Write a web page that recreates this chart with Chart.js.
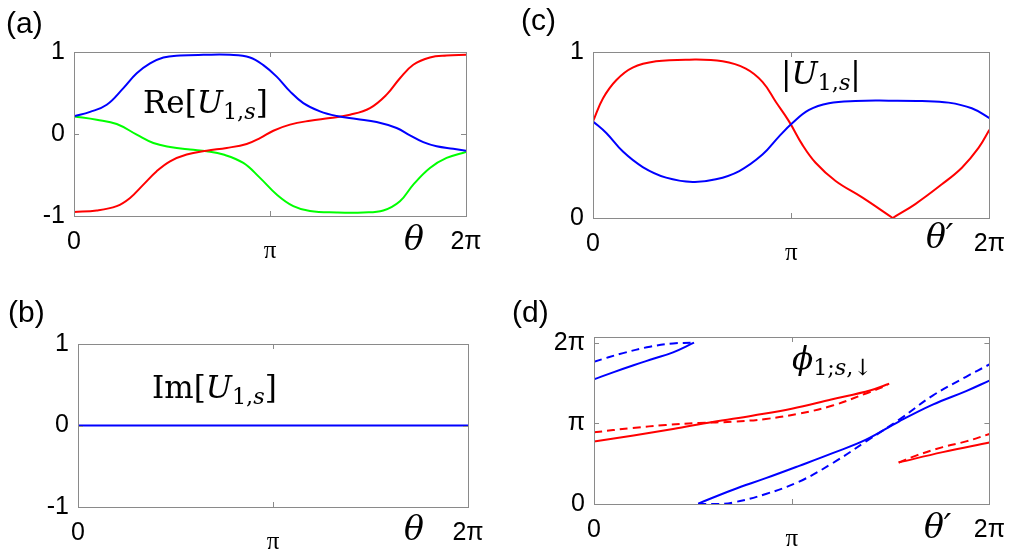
<!DOCTYPE html>
<html>
<head>
<meta charset="utf-8">
<script src="https://cdn.jsdelivr.net/npm/chart.js@4.4.1/dist/chart.umd.min.js"></script>
<style>
body { margin: 0; width: 1016px; height: 559px; background: #fff; position: relative; overflow: hidden; font-family: 'Liberation Sans', sans-serif; }
canvas { position: absolute; }
.lbl { position: absolute; font-size: 30px; line-height: 1; color: #000; }
.math { position: absolute; font-family: 'DejaVu Serif', serif; font-size: 31px; line-height: 1; white-space: nowrap; color: #000; }
.math i { font-style: italic; }
.math .sb { font-size: 0.72em; position: relative; top: 0.28em; }
.ax { position: absolute; font-family: 'DejaVu Serif', serif; font-style: italic; font-size: 33px; line-height: 1; color: #000; }
</style>
</head>
<body>
<canvas id="pa" width="500" height="280" style="left:0;top:0"></canvas>
<canvas id="pb" width="500" height="279" style="left:0;top:280px"></canvas>
<canvas id="pc" width="508" height="280" style="left:508px;top:0"></canvas>
<canvas id="pd" width="508" height="279" style="left:508px;top:280px"></canvas>

<div class="lbl" style="left:6px;top:8px">(a)</div>
<div class="lbl" style="left:8px;top:297px">(b)</div>
<div class="lbl" style="left:521px;top:5px">(c)</div>
<div class="lbl" style="left:512px;top:297px">(d)</div>

<div class="math" style="left:143px;top:87px">Re[<i>U</i><span class="sb">1,<i>s</i></span>]</div>
<div class="math" style="left:152px;top:372px">Im[<i>U</i><span class="sb">1,<i>s</i></span>]</div>
<div class="math" style="left:781px;top:58px">|<i>U</i><span class="sb">1,<i>s</i></span>|</div>
<div class="math" style="left:792px;top:343px"><i>ϕ</i><span class="sb">1;<i>s</i>,↓</span></div>

<div class="ax" style="left:404px;top:222px">θ</div>
<div class="ax" style="left:404px;top:512px">θ</div>
<div class="ax" style="left:926px;top:220px">θ′</div>
<div class="ax" style="left:924px;top:510px">θ′</div>

<script>
var PI = Math.PI;

// x positions are in units of pi
var tReBlue = [0, 0.082, 0.167, 0.252, 0.32, 0.388, 0.456, 0.541, 0.66, 0.796, 0.898, 0.966, 1.034, 1.102, 1.17, 1.255, 1.34, 1.442, 1.544, 1.646, 1.714, 1.782, 1.85, 1.935, 2.0];
var reBlue = [0.215, 0.27, 0.357, 0.56, 0.74, 0.86, 0.933, 0.957, 0.965, 0.965, 0.933, 0.84, 0.70, 0.52, 0.377, 0.276, 0.22, 0.183, 0.146, 0.073, -0.016, -0.10, -0.15, -0.18, -0.203];
var tReRed = [0, 0.116, 0.218, 0.286, 0.354, 0.422, 0.49, 0.575, 0.677, 0.779, 0.881, 0.949, 1.017, 1.102, 1.204, 1.306, 1.408, 1.51, 1.595, 1.663, 1.731, 1.816, 1.901, 2.0];
var reRed = [-0.95, -0.933, -0.88, -0.78, -0.617, -0.454, -0.333, -0.25, -0.203, -0.17, -0.122, -0.05, 0.04, 0.114, 0.162, 0.195, 0.235, 0.316, 0.48, 0.68, 0.844, 0.933, 0.957, 0.965];
var tReGreen = [0, 0.116, 0.218, 0.32, 0.405, 0.49, 0.592, 0.677, 0.762, 0.864, 0.949, 1.034, 1.119, 1.204, 1.34, 1.476, 1.578, 1.663, 1.731, 1.816, 1.901, 2.0];
var reGreen = [0.215, 0.174, 0.122, -0.008, -0.11, -0.158, -0.19, -0.21, -0.25, -0.353, -0.535, -0.738, -0.88, -0.94, -0.957, -0.957, -0.933, -0.82, -0.617, -0.414, -0.292, -0.22];

var tIm = [0, 2];
var imBlue = [0, 0];

var tAbsBlue = [0, 0.067, 0.151, 0.251, 0.369, 0.503, 0.62, 0.738, 0.855, 0.939, 1.006, 1.09, 1.19, 1.324, 1.492, 1.66, 1.794, 1.911, 2.0];
var absBlue = [0.582, 0.512, 0.40, 0.307, 0.243, 0.217, 0.233, 0.283, 0.382, 0.492, 0.572, 0.651, 0.691, 0.705, 0.707, 0.705, 0.695, 0.661, 0.602];
var tAbsRedL = [0, 0.05, 0.117, 0.2, 0.318, 0.486, 0.654, 0.771, 0.855, 0.922, 0.989, 1.056, 1.123, 1.224, 1.358, 1.512];
var absRedL = [0.582, 0.72, 0.83, 0.906, 0.944, 0.954, 0.944, 0.90, 0.82, 0.70, 0.582, 0.442, 0.333, 0.223, 0.124, 0];
var tAbsRedR = [1.512, 1.626, 1.76, 1.861, 1.945, 2.0];
var absRedR = [0, 0.084, 0.203, 0.303, 0.422, 0.532];

// phases, values in units of pi
var tBlueSolid1 = [0, 0.1, 0.2, 0.3, 0.4, 0.506];
var phBlueSolid1 = [1.545, 1.635, 1.72, 1.80, 1.88, 2.0];
var tBlueDash1 = [0, 0.147, 0.283, 0.40, 0.506];
var phBlueDash1 = [1.764, 1.87, 1.95, 1.99, 2.0];
var tRedSolid1 = [0, 0.2, 0.4, 0.6, 0.8, 1.0, 1.2, 1.4, 1.493];
var phRedSolid1 = [0.776, 0.85, 0.93, 1.017, 1.095, 1.18, 1.295, 1.41, 1.49];
var tRedDash1 = [0, 0.194, 0.363, 0.532, 0.70, 0.869, 1.038, 1.207, 1.376, 1.485];
var phRedDash1 = [0.888, 0.942, 0.979, 1.004, 1.02, 1.054, 1.12, 1.22, 1.37, 1.473];
var tRedSolid2 = [1.541, 1.764, 2.0];
var phRedSolid2 = [0.515, 0.643, 0.763];
var tRedDash2 = [1.541, 1.629, 1.764, 1.882, 2.0];
var phRedDash2 = [0.515, 0.60, 0.705, 0.776, 0.867];
var tBlueSolid2 = [0.527, 0.70, 0.869, 1.038, 1.207, 1.376, 1.544, 1.713, 1.882, 2.0];
var phBlueSolid2 = [0.005, 0.174, 0.32, 0.473, 0.63, 0.797, 1.025, 1.232, 1.40, 1.53];
var tBlueDash2 = [0.527, 0.616, 0.70, 0.869, 1.038, 1.207, 1.376, 1.544, 1.713, 1.882, 2.0];
var phBlueDash2 = [0, 0, 0.017, 0.124, 0.278, 0.506, 0.776, 1.046, 1.344, 1.577, 1.73];

var BLUE = '#0000ff', RED = '#ff0000', GREEN = '#00ff00';

function pts(ts, vs, k) {
    return ts.map(function (t, i) { return { x: t * PI, y: vs[i] * k }; });
}

function line(ts, vs, k, color, dashed) {
    return {
        data: pts(ts, vs, k),
        borderColor: color,
        borderWidth: 2,
        borderDash: dashed ? [8, 5] : [],
        pointRadius: 0,
        tension: 0.4
    };
}

function isPi(v) { return Math.abs(v - PI) < 1e-6; }

function piLabel(v) {
    if (Math.abs(v) < 1e-6) return '0';
    if (isPi(v)) return 'π';
    return '2π';
}

// box + inward tick marks, matlab style
var boxPlugin = {
    id: 'box',
    afterDraw: function (chart) {
        var c = chart.ctx, a = chart.chartArea, sx = chart.scales.x, sy = chart.scales.y;
        c.save();
        c.strokeStyle = '#8a8a8a';
        c.lineWidth = 1;
        c.strokeRect(Math.round(a.left) + 0.5, Math.round(a.top) + 0.5, Math.round(a.right - a.left), Math.round(a.bottom - a.top));
        c.beginPath();
        sx.ticks.forEach(function (t) {
            var px = Math.round(sx.getPixelForValue(t.value)) + 0.5;
            c.moveTo(px, a.top); c.lineTo(px, a.top + 5);
            c.moveTo(px, a.bottom); c.lineTo(px, a.bottom - 5);
        });
        sy.ticks.forEach(function (t) {
            var py = Math.round(sy.getPixelForValue(t.value)) + 0.5;
            c.moveTo(a.left, py); c.lineTo(a.left + 5, py);
            c.moveTo(a.right, py); c.lineTo(a.right - 5, py);
        });
        c.stroke();
        c.restore();
    }
};

function panel(id, datasets, yMin, yMax, yTicks, yLabel, box) {
    return new Chart(document.getElementById(id), {
        type: 'line',
        data: { datasets: datasets },
        options: {
            responsive: false,
            animation: false,
            layout: { padding: { top: box.top, right: box.right, left: 0, bottom: 0 } },
            plugins: { legend: { display: false }, tooltip: { enabled: false } },
            scales: {
                x: {
                    type: 'linear', min: 0, max: 2 * PI,
                    grid: { display: false, drawTicks: false }, border: { display: false },
                    afterBuildTicks: function (s) { s.ticks = [0, PI, 2 * PI].map(function (v) { return { value: v }; }); },
                    afterFit: function (s) { s.height = box.xh; },
                    ticks: {
                        color: '#000', padding: 11, maxRotation: 0, autoSkip: false,
                        callback: piLabel,
                        font: function (ctx) {
                            if (ctx.tick && isPi(ctx.tick.value)) return { family: 'Liberation Serif', size: 25, lineHeight: 1.95 };
                            return { family: 'Liberation Sans', size: 25, lineHeight: 1.2 };
                        }
                    }
                },
                y: {
                    type: 'linear', min: yMin, max: yMax,
                    grid: { display: false, drawTicks: false }, border: { display: false },
                    afterBuildTicks: function (s) { s.ticks = yTicks.map(function (v) { return { value: v }; }); },
                    afterFit: function (s) { s.width = box.yw; },
                    ticks: {
                        color: '#000', padding: 9, autoSkip: false,
                        callback: yLabel,
                        font: { family: 'Liberation Sans', size: 25 }
                    }
                }
            }
        },
        plugins: [boxPlugin]
    });
}

function numLabel(v) { return String(v); }

panel('pa', [
    line(tReBlue, reBlue, 1, BLUE),
    line(tReRed, reRed, 1, RED),
    line(tReGreen, reGreen, 1, GREEN)
], -1, 1, [-1, 0, 1], numLabel, { top: 52, right: 34, yw: 74, xh: 64 });

panel('pb', [
    line(tIm, imBlue, 1, BLUE)
], -1, 1, [-1, 0, 1], numLabel, { top: 64, right: 32, yw: 78, xh: 52 });

panel('pc', [
    line(tAbsBlue, absBlue, 1, BLUE),
    line(tAbsRedL, absRedL, 1, RED),
    line(tAbsRedR, absRedR, 1, RED)
], 0, 1, [0, 1], numLabel, { top: 52, right: 24, yw: 85, xh: 62 });

panel('pd', [
    line(tBlueSolid1, phBlueSolid1, PI, BLUE),
    line(tBlueDash1, phBlueDash1, PI, BLUE, true),
    line(tRedSolid1, phRedSolid1, PI, RED),
    line(tRedDash1, phRedDash1, PI, RED, true),
    line(tRedSolid2, phRedSolid2, PI, RED),
    line(tRedDash2, phRedDash2, PI, RED, true),
    line(tBlueSolid2, phBlueSolid2, PI, BLUE),
    line(tBlueDash2, phBlueDash2, PI, BLUE, true)
], 0, 2.07 * PI, [0, PI, 2 * PI], piLabel, { top: 57, right: 26, yw: 86, xh: 55 });
</script>
</body>
</html>
